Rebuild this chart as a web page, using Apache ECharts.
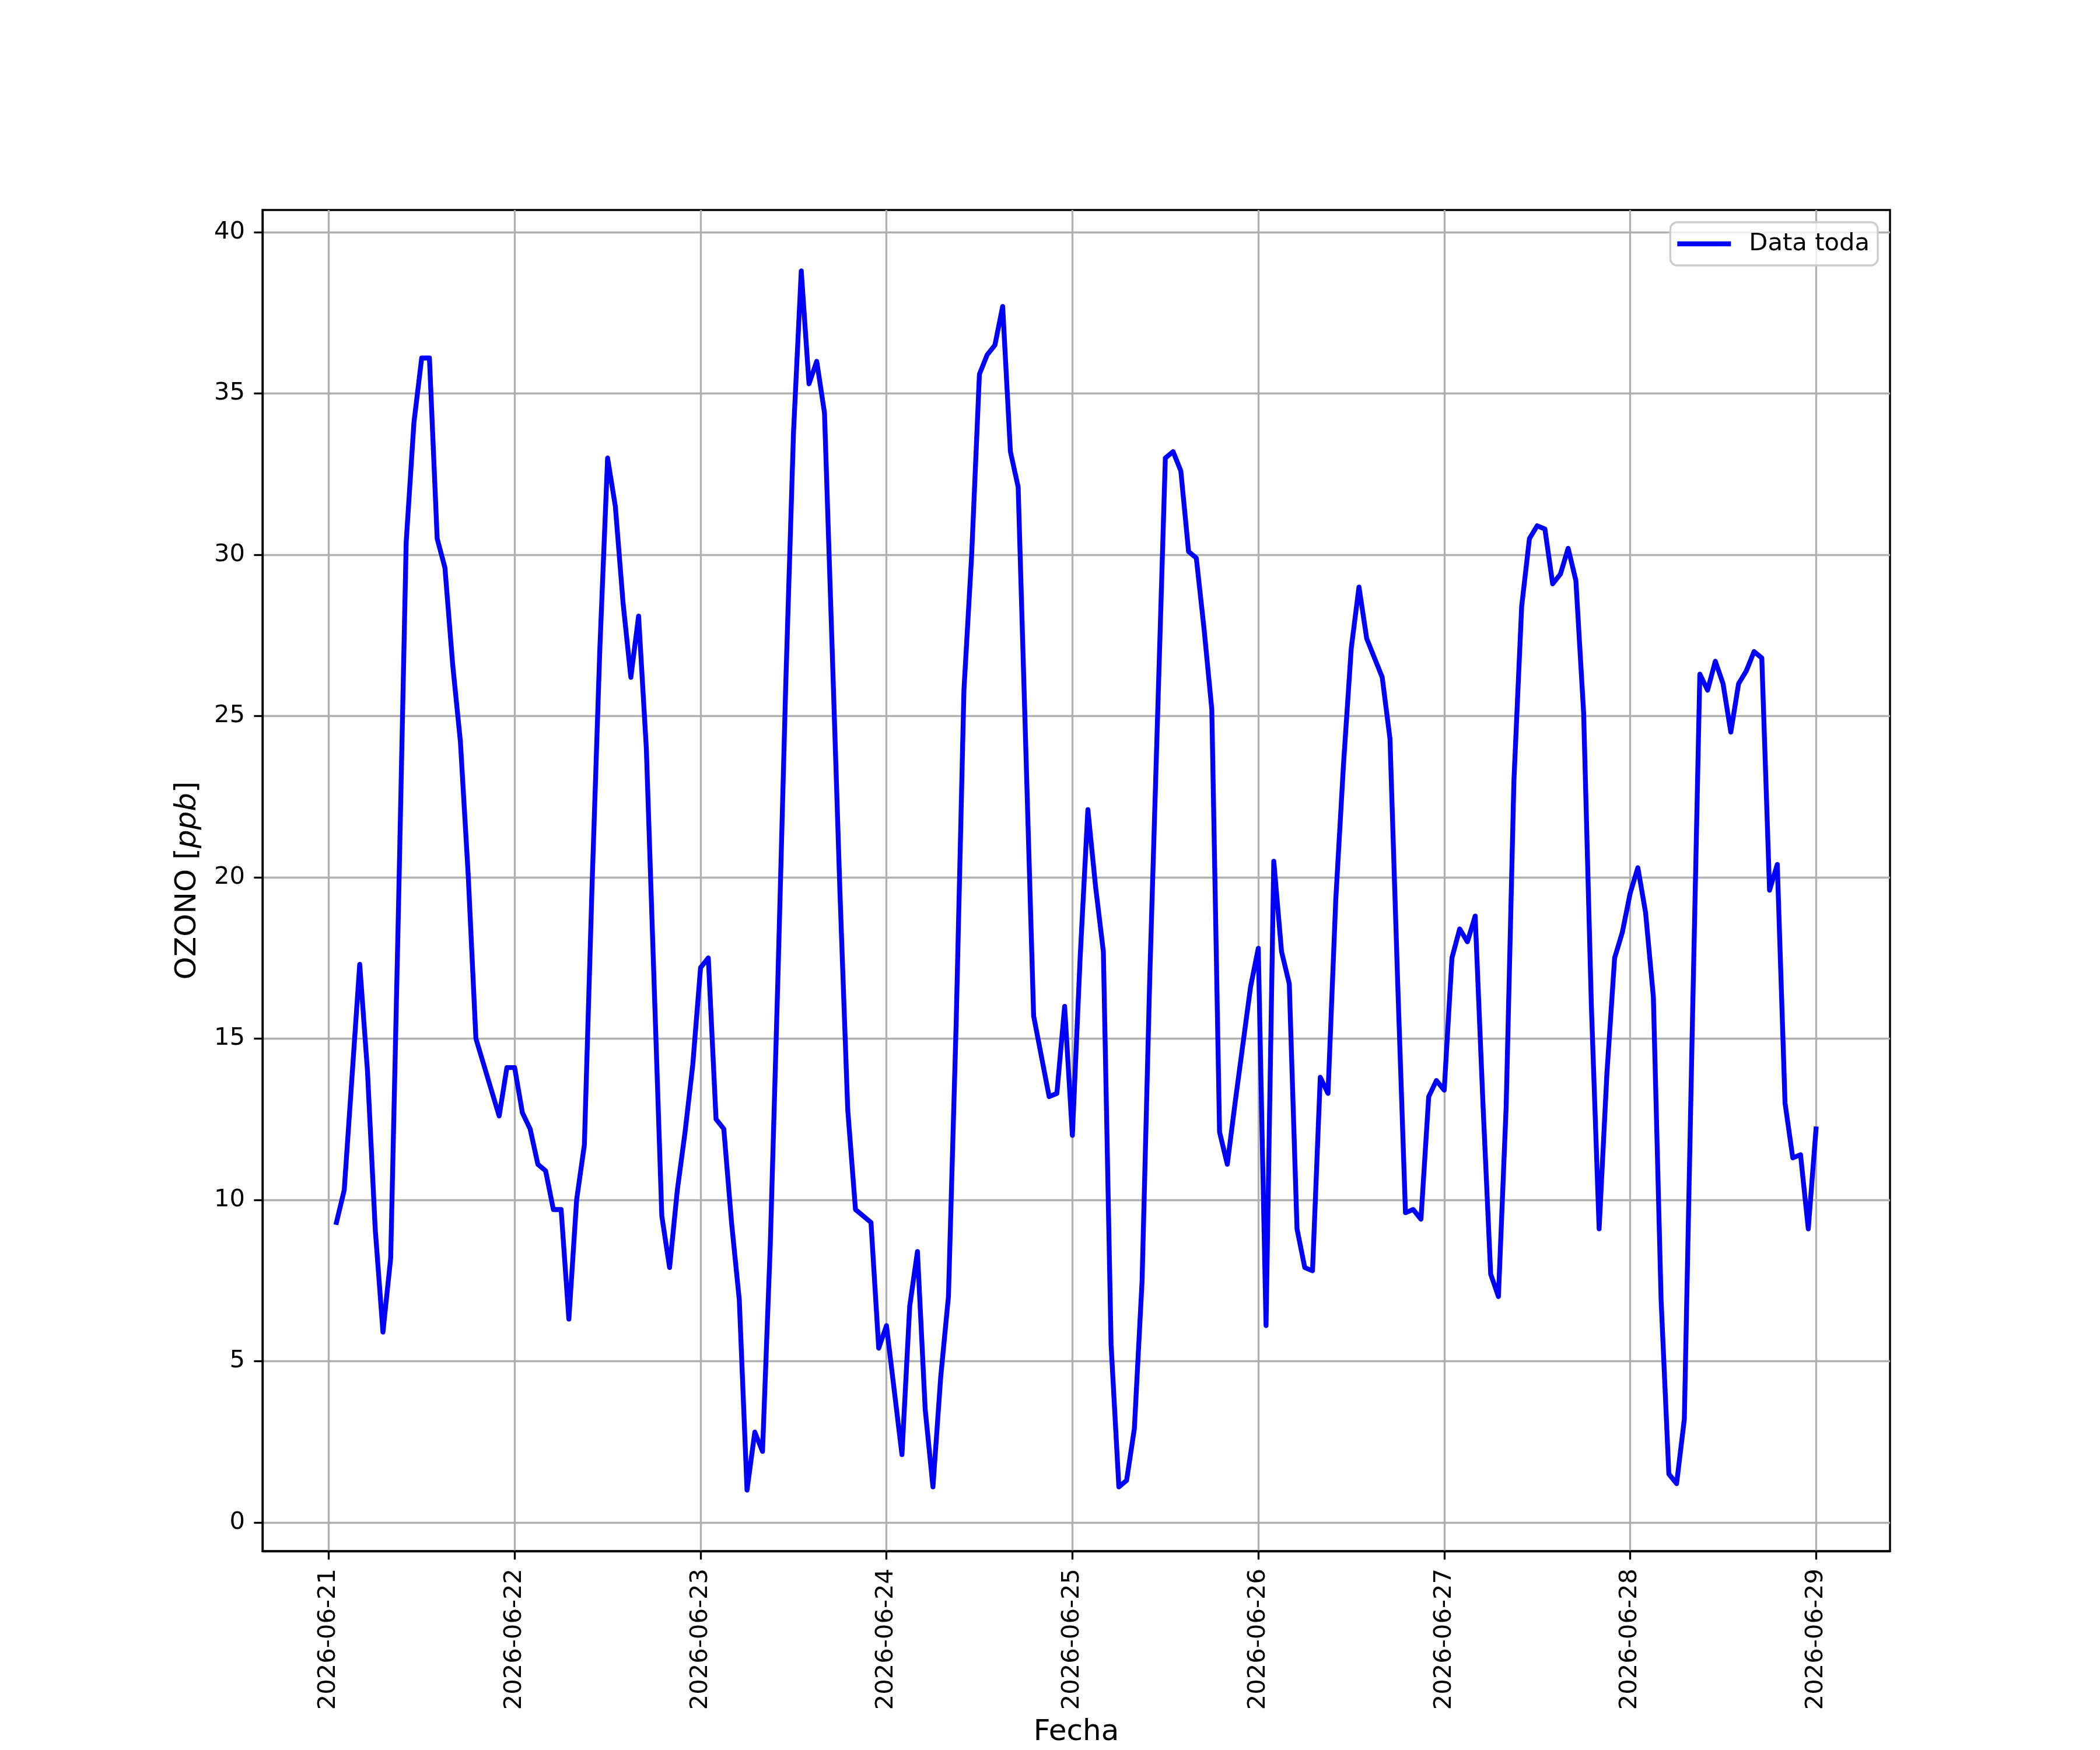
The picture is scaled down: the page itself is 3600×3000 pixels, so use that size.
<!DOCTYPE html>
<html>
<head>
<meta charset="utf-8">
<script src="https://cdn.jsdelivr.net/npm/echarts@6/dist/echarts.min.js"></script>
<style>
html,body{margin:0;padding:0;background:#fff;}
#chart{width:3600px;height:3000px;}
</style>
</head>
<body>
<div id="chart"></div>
<script>
// ---- data (hours after 2026-06-21 00:00, ozone ppb) ----
const hoursFromStart = [
  1,2,4,5,6,7,8,9,10,11,12,13,14,15,16,17,18,19,22,23,24,
  25,26,27,28,29,30,31,32,33,34,35,36,37,38,39,40,41,43,44,45,46,47,48,
  49,50,51,52,53,54,55,56,57,58,59,60,61,62,63,64,65,66,67,68,70,71,72,
  74,75,76,77,78,79,80,81,82,83,84,85,86,87,88,89,91,93,94,95,96,
  97,98,99,100,101,102,103,104,105,106,107,108,109,110,111,112,113,114,115,116,117,118,119,120,
  121,122,123,124,125,126,127,128,129,130,131,132,133,134,135,136,137,138,139,140,141,142,143,144,
  145,146,147,148,149,150,151,152,153,154,155,156,157,158,159,160,161,162,163,164,165,166,167,168,
  169,170,171,172,173,174,175,176,177,178,179,180,181,182,183,184,185,186,187,188,189,190,191,192
];
const ozoneValues = [
  9.3,10.3,17.3,14.0,9.1,5.9,8.2,19.0,30.4,34.1,36.1,36.1,30.5,29.6,26.6,24.2,20.1,15.0,12.6,14.1,14.1,
  12.7,12.2,11.1,10.9,9.7,9.7,6.3,10.0,11.7,19.8,27.1,33.0,31.5,28.5,26.2,28.1,24.0,9.5,7.9,10.3,12.1,14.2,17.2,
  17.5,12.5,12.2,9.3,6.9,1.0,2.8,2.2,8.6,17.0,26.0,33.8,38.8,35.3,36.0,34.4,27.0,19.5,12.8,9.7,9.3,5.4,6.1,
  2.1,6.7,8.4,3.5,1.1,4.5,7.0,15.5,25.8,30.0,35.6,36.2,36.5,37.7,33.2,32.1,15.7,13.2,13.3,16.0,12.0,
  17.5,22.1,19.7,17.7,5.5,1.1,1.3,2.9,7.5,17.0,25.0,33.0,33.2,32.6,30.1,29.9,27.7,25.2,12.1,11.1,13.0,14.8,16.6,17.8,
  6.1,20.5,17.7,16.7,9.1,7.9,7.8,13.8,13.3,19.3,23.5,27.1,29.0,27.4,26.8,26.2,24.3,16.7,9.6,9.7,9.4,13.2,13.7,13.4,
  17.5,18.4,18.0,18.8,13.0,7.7,7.0,12.9,23.0,28.4,30.5,30.9,30.8,29.1,29.4,30.2,29.2,25.1,16.0,9.1,13.9,17.5,18.3,19.5,
  20.3,18.9,16.3,6.9,1.5,1.2,3.2,15.0,26.3,25.8,26.7,26.0,24.5,26.0,26.4,27.0,26.8,19.6,20.4,13.0,11.3,11.4,9.1,12.2
];
const dayLabels = ['2026-06-21','2026-06-22','2026-06-23','2026-06-24','2026-06-25','2026-06-26','2026-06-27','2026-06-28','2026-06-29'];
const yTickValues = [0,5,10,15,20,25,30,35,40];
const seriesName = 'Data toda';

// ---- build ----
function parseDay(s){ const p=s.split('-').map(Number); return new Date(p[0],p[1]-1,p[2]).getTime(); }
const HOUR = 3600000;
const base = parseDay(dayLabels[0]);
const dayTs = dayLabels.map(parseDay);
const points = hoursFromStart.map((h,i)=>[base + h*HOUR, ozoneValues[i]]);

const tFirst = points[0][0], tLast = points[points.length-1][0];
const tPad = (tLast - tFirst)*0.05;
const vMin = Math.min(...ozoneValues), vMax = Math.max(...ozoneValues);
const vPad = (vMax - vMin)*0.05;

const FS = 41.7;
const LW = 3.33;
const DLW = 8.33;
const chart = echarts.init(document.getElementById('chart'), null, {renderer:'canvas', devicePixelRatio:1});
chart.setOption({
  animation:false,
  backgroundColor:'#ffffff',
  textStyle:{fontFamily:'DejaVu Sans'},
  grid:{left:450, right:360, top:360, bottom:330, show:true, borderColor:'#000', borderWidth:LW, backgroundColor:'transparent', containLabel:false},
  legend:{
    show:true, right:381, top:381, orient:'vertical',
    data:[{name:seriesName, icon:'rect'}],
    itemWidth:92, itemHeight:DLW,
    padding:[12,14,12,12],
    backgroundColor:'rgba(255,255,255,0.8)',
    borderColor:'#cccccc', borderWidth:LW, borderRadius:12,
    textStyle:{fontFamily:'DejaVu Sans', fontSize:FS, color:'#000', lineHeight:50, padding:[0,0,0,26]}
  },
  xAxis:{
    type:'value', min: tFirst - tPad, max: tLast + tPad, scale:true,
    name:'Fecha', nameLocation:'middle', nameGap:286,
    nameTextStyle:{fontFamily:'DejaVu Sans', fontSize:50, color:'#000', verticalAlign:'top'},
    axisLine:{show:true, onZero:false, lineStyle:{color:'#000', width:LW}},
    axisTick:{show:true, inside:false, length:14.6, lineStyle:{color:'#000', width:LW}, customValues:dayTs},
    minorTick:{show:false},
    axisLabel:{show:true, customValues:dayTs, rotate:90, margin:30, fontFamily:'DejaVu Sans', fontSize:FS, color:'#000', hideOverlap:false,
      formatter:function(v){ const i = dayTs.indexOf(v); return i>=0 ? dayLabels[i] : ''; }},
    splitLine:{show:true, lineStyle:{color:'#b0b0b0', width:LW}}
  },
  yAxis:{
    type:'value', min: vMin - vPad, max: vMax + vPad,
    name:'OZONO [{i|ppb}]', nameLocation:'middle', nameGap:103, nameRotate:90,
    nameTextStyle:{fontFamily:'DejaVu Sans', fontSize:50, color:'#000',
      rich:{i:{fontFamily:'DejaVu Sans', fontStyle:'italic', fontSize:50, color:'#000'}}},
    axisLine:{show:true, onZero:false, lineStyle:{color:'#000', width:LW}},
    axisTick:{show:true, inside:false, length:14.6, lineStyle:{color:'#000', width:LW}, customValues:yTickValues},
    axisLabel:{show:true, customValues:yTickValues, margin:30, fontFamily:'DejaVu Sans', fontSize:FS, color:'#000',
      formatter:function(v){ return String(Math.round(v)); }},
    splitLine:{show:true, lineStyle:{color:'#b0b0b0', width:LW}}
  },
  series:[{
    name:seriesName, type:'line', data:points, showSymbol:false, symbol:'none',
    lineStyle:{color:'#0000ff', width:DLW, join:'round', cap:'square'},
    itemStyle:{color:'#0000ff'}
  }]
});
</script>
</body>
</html>
